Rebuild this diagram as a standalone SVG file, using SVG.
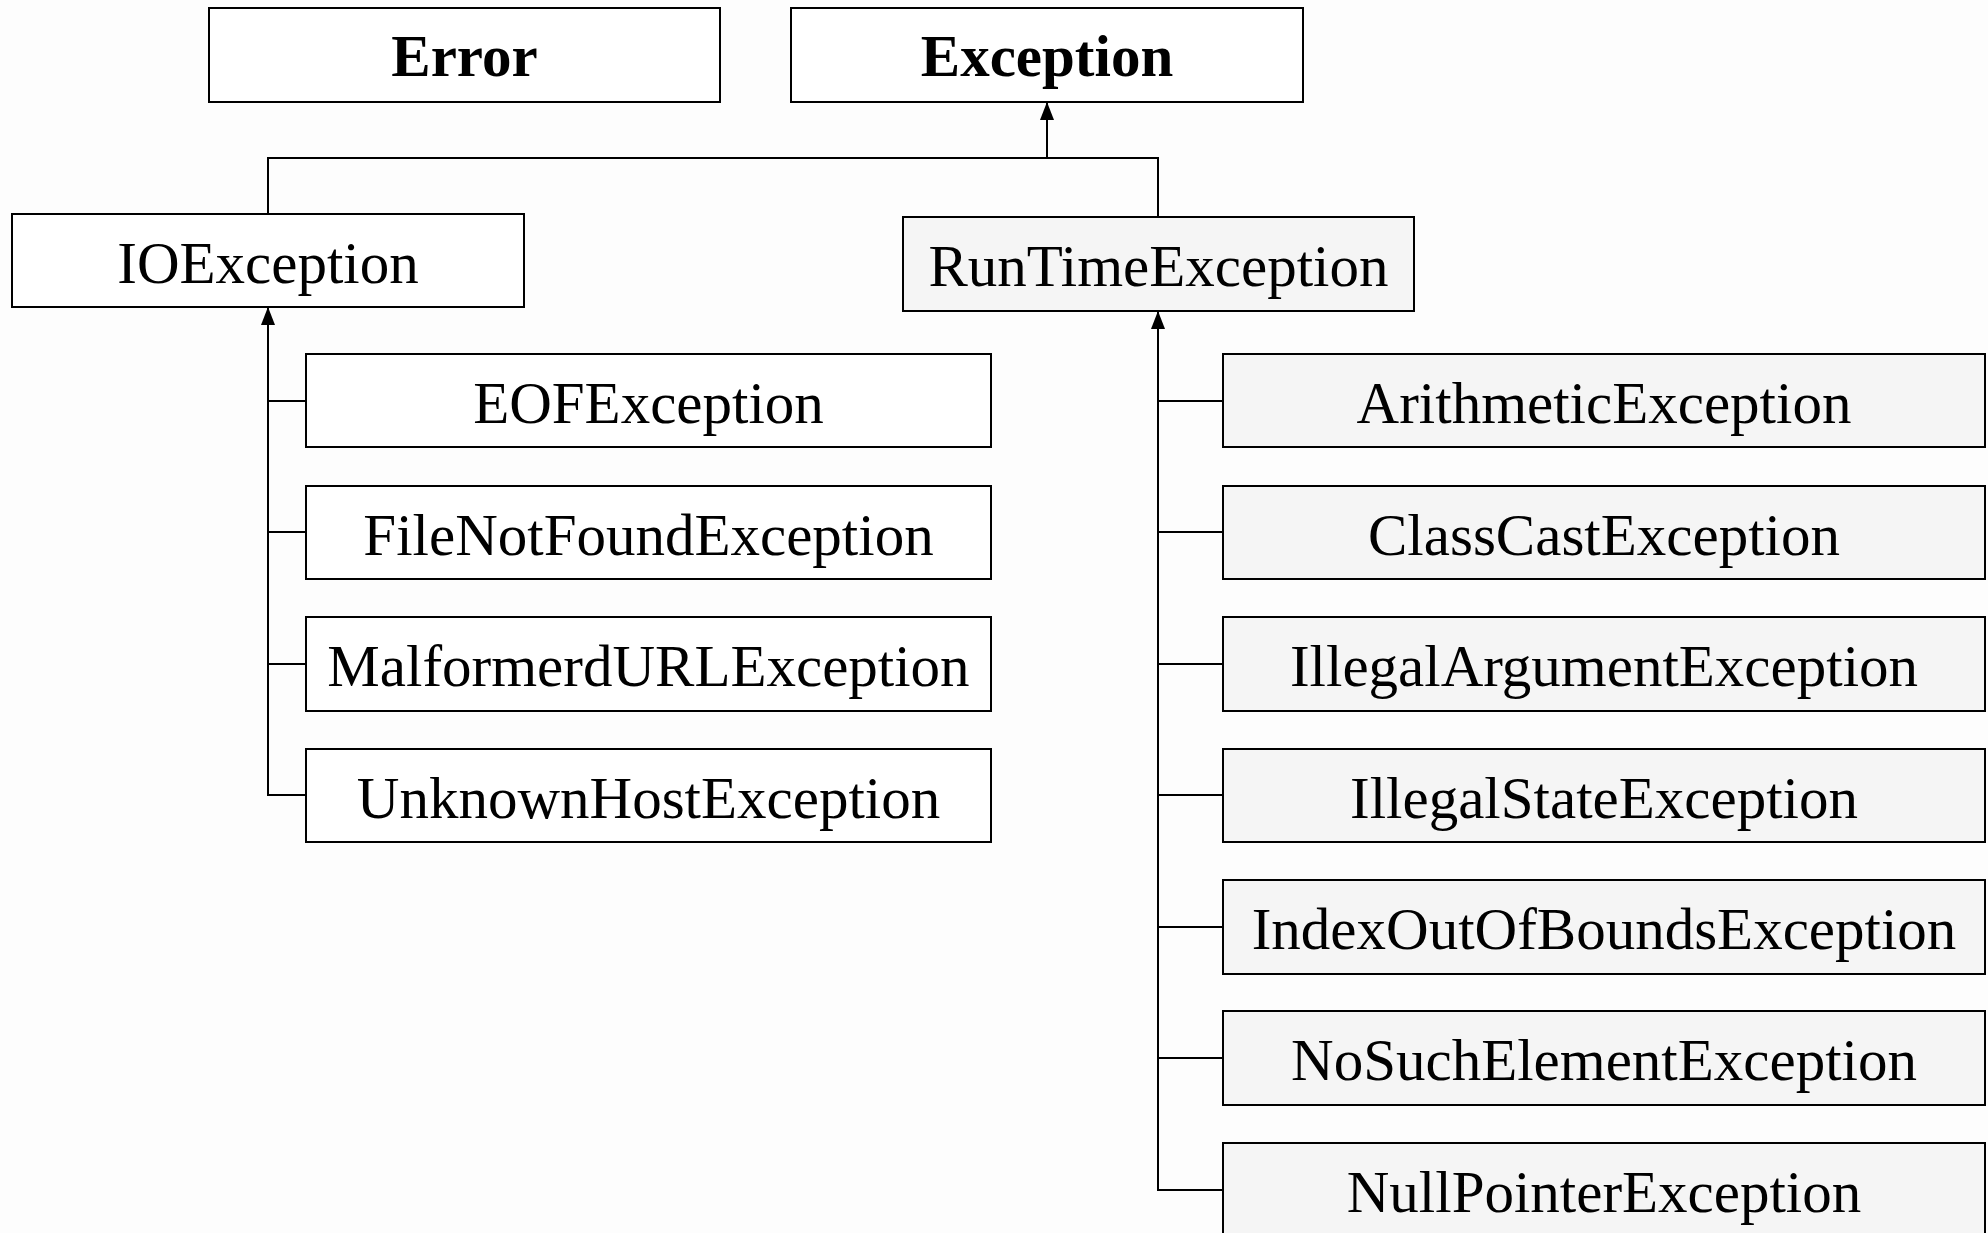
<svg xmlns="http://www.w3.org/2000/svg" width="1988" height="1233" viewBox="0 0 1988 1233">
<defs>
<marker id="arr" markerUnits="userSpaceOnUse" markerWidth="18" markerHeight="14" refX="18" refY="7" orient="auto" viewBox="0 0 18 14">
<path d="M0,0 L18,7 L0,14 Z" fill="#000"/>
</marker>
<style>
.box{stroke:#000;stroke-width:2}
.w{fill:#ffffff}
.g{fill:#f5f5f5}
.t{font-family:"Liberation Serif","Times New Roman",serif;font-size:59px;fill:#000;text-anchor:middle}
.b{font-weight:bold}
.c{fill:none;stroke:#000;stroke-width:2}
</style>
</defs>
<rect width="1988" height="1233" fill="#fdfdfd"/>
<g id="connectors">
<polyline class="c" points="268,214 268,158 1158,158 1158,216"/>
<line class="c" x1="1047" y1="158" x2="1047" y2="102" marker-end="url(#arr)"/>
<line class="c" x1="268" y1="795" x2="268" y2="307" marker-end="url(#arr)"/>
<line class="c" x1="268" y1="401" x2="306" y2="401"/>
<line class="c" x1="268" y1="532" x2="306" y2="532"/>
<line class="c" x1="268" y1="664" x2="306" y2="664"/>
<line class="c" x1="267" y1="795" x2="306" y2="795"/>
<line class="c" x1="1158" y1="1190" x2="1158" y2="311" marker-end="url(#arr)"/>
<line class="c" x1="1158" y1="401" x2="1223" y2="401"/>
<line class="c" x1="1158" y1="532" x2="1223" y2="532"/>
<line class="c" x1="1158" y1="664" x2="1223" y2="664"/>
<line class="c" x1="1158" y1="795" x2="1223" y2="795"/>
<line class="c" x1="1158" y1="927" x2="1223" y2="927"/>
<line class="c" x1="1158" y1="1058" x2="1223" y2="1058"/>
<line class="c" x1="1157" y1="1190" x2="1223" y2="1190"/>
</g>
<g id="error"><rect class="box w" x="209" y="8" width="511" height="94"/><text class="t b" x="464.5" y="76">Error</text></g>
<g id="exception"><rect class="box w" x="791" y="8" width="512" height="94"/><text class="t b" x="1047" y="76">Exception</text></g>
<g id="ioexception"><rect class="box w" x="12" y="214" width="512" height="93"/><text class="t" x="268" y="283">IOException</text></g>
<g id="runtimeexception"><rect class="box g" x="903" y="217" width="511" height="94"/><text class="t" x="1158.5" y="286">RunTimeException</text></g>
<g id="eofexception"><rect class="box w" x="306" y="354" width="685" height="93"/><text class="t" x="648.5" y="423">EOFException</text></g>
<g id="filenotfoundexception"><rect class="box w" x="306" y="486" width="685" height="93"/><text class="t" x="648.5" y="555">FileNotFoundException</text></g>
<g id="malformedurlexception"><rect class="box w" x="306" y="617" width="685" height="94"/><text class="t" x="648.5" y="686">MalformerdURLException</text></g>
<g id="unknownhostexception"><rect class="box w" x="306" y="749" width="685" height="93"/><text class="t" x="648.5" y="818">UnknownHostException</text></g>
<g id="arithmeticexception"><rect class="box g" x="1223" y="354" width="762" height="93"/><text class="t" x="1604" y="423">ArithmeticException</text></g>
<g id="classcastexception"><rect class="box g" x="1223" y="486" width="762" height="93"/><text class="t" x="1604" y="555">ClassCastException</text></g>
<g id="illegalargumentexception"><rect class="box g" x="1223" y="617" width="762" height="94"/><text class="t" x="1604" y="686">IllegalArgumentException</text></g>
<g id="illegalstateexception"><rect class="box g" x="1223" y="749" width="762" height="93"/><text class="t" x="1604" y="818">IllegalStateException</text></g>
<g id="indexoutofboundsexception"><rect class="box g" x="1223" y="880" width="762" height="94"/><text class="t" x="1604" y="949">IndexOutOfBoundsException</text></g>
<g id="nosuchelementexception"><rect class="box g" x="1223" y="1011" width="762" height="94"/><text class="t" x="1604" y="1080">NoSuchElementException</text></g>
<g id="nullpointerexception"><rect class="box g" x="1223" y="1143" width="762" height="94"/><text class="t" x="1604" y="1212">NullPointerException</text></g>
</svg>
